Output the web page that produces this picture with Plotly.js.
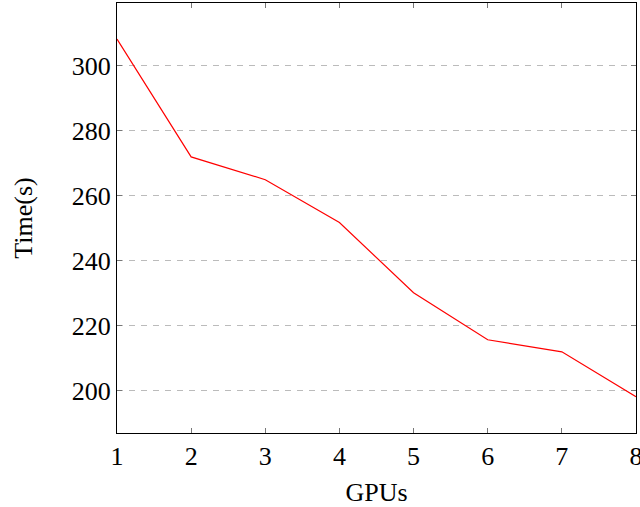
<!DOCTYPE html>
<html>
<head>
<meta charset="utf-8">
<script src="https://cdn.plot.ly/plotly-3.0.1.min.js"></script>
<style>html,body{margin:0;padding:0;background:#fff;}#chart{width:640px;height:507px;}</style>
</head>
<body>
<div id="chart"></div>
<script>
const gpus = [1, 2, 3, 4, 5, 6, 7, 8];
const timeSec = [308.2, 271.9, 264.9, 251.7, 230.1, 215.6, 211.9, 198.1];
const yTicks = [200, 220, 240, 260, 280, 300];

const fontFam = '"Liberation Serif", "DejaVu Serif", serif';
const trace = {
  x: gpus, y: timeSec, type: 'scatter', mode: 'lines',
  line: {color: '#ff0000', width: 1.2}, hoverinfo: 'skip'
};
const layout = {
  width: 640, height: 507,
  margin: {l: 117, r: 4, t: 3, b: 74},
  paper_bgcolor: '#fff', plot_bgcolor: '#fff',
  showlegend: false,
  font: {family: fontFam, size: 26, color: '#000'},
  xaxis: {
    range: [1, 8], tickvals: gpus, ticks: 'inside', ticklen: 5, tickcolor: '#777',
    mirror: 'ticks', showline: true, linecolor: '#000', linewidth: 1,
    showgrid: false, zeroline: false, ticklabeloverflow: 'allow',
    tickfont: {family: fontFam, size: 26},
    title: {text: 'GPUs', font: {family: fontFam, size: 26}, standoff: 26}
  },
  yaxis: {
    range: [186.9, 319.3], tickvals: yTicks, ticks: 'inside', ticklen: 5, tickcolor: '#777',
    mirror: 'ticks', showline: true, linecolor: '#000', linewidth: 1,
    showgrid: true, gridcolor: '#bbb', griddash: '6px,6px', gridwidth: 1, zeroline: false,
    ticklabeloverflow: 'allow',
    tickfont: {family: fontFam, size: 26},
    title: {text: 'Time(s)', font: {family: fontFam, size: 26}, standoff: 31}
  }
};
Plotly.newPlot('chart', [trace], layout, {staticPlot: true, displayModeBar: false});
</script>
</body>
</html>
